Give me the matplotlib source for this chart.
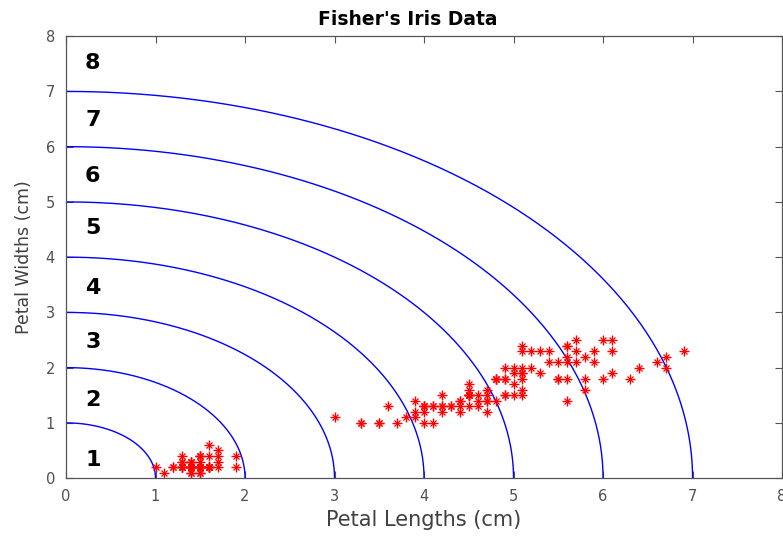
import numpy as np
import matplotlib
matplotlib.use("Agg")
import matplotlib.pyplot as plt

plt.rcParams['font.family'] = ['DejaVu Sans']

petal_length = [
    1.4,1.4,1.3,1.5,1.4,1.7,1.4,1.5,1.4,1.5,1.5,1.6,1.4,1.1,1.2,1.5,1.3,1.4,1.7,1.5,
    1.7,1.5,1.0,1.7,1.9,1.6,1.6,1.5,1.4,1.6,1.6,1.5,1.5,1.4,1.5,1.2,1.3,1.4,1.3,1.5,
    1.3,1.3,1.3,1.6,1.9,1.4,1.6,1.4,1.5,1.4,
    4.7,4.5,4.9,4.0,4.6,4.5,4.7,3.3,4.6,3.9,3.5,4.2,4.0,4.7,3.6,4.4,4.5,4.1,4.5,3.9,
    4.8,4.0,4.9,4.7,4.3,4.4,4.8,5.0,4.5,3.5,3.8,3.7,3.9,5.1,4.5,4.5,4.7,4.4,4.1,4.0,
    4.4,4.6,4.0,3.3,4.2,4.2,4.2,4.3,3.0,4.1,
    6.0,5.1,5.9,5.6,5.8,6.6,4.5,6.3,5.8,6.1,5.1,5.3,5.5,5.0,5.1,5.3,5.5,6.7,6.9,5.0,
    5.7,4.9,6.7,4.9,5.7,6.0,4.8,4.9,5.6,5.8,6.1,6.4,5.6,5.1,5.6,6.1,5.6,5.5,4.8,5.4,
    5.6,5.1,5.1,5.9,5.7,5.2,5.0,5.2,5.4,5.1]
petal_width = [
    0.2,0.2,0.2,0.2,0.2,0.4,0.3,0.2,0.2,0.1,0.2,0.2,0.1,0.1,0.2,0.4,0.4,0.3,0.3,0.3,
    0.2,0.4,0.2,0.5,0.2,0.2,0.4,0.2,0.2,0.2,0.2,0.4,0.1,0.2,0.2,0.2,0.2,0.1,0.2,0.2,
    0.3,0.3,0.2,0.6,0.4,0.3,0.2,0.2,0.2,0.2,
    1.4,1.5,1.5,1.3,1.5,1.3,1.6,1.0,1.3,1.4,1.0,1.5,1.0,1.4,1.3,1.4,1.5,1.0,1.5,1.1,
    1.8,1.3,1.5,1.2,1.3,1.4,1.4,1.7,1.5,1.0,1.1,1.0,1.2,1.6,1.5,1.6,1.5,1.3,1.3,1.3,
    1.2,1.4,1.2,1.0,1.3,1.2,1.3,1.3,1.1,1.3,
    2.5,1.9,2.1,1.8,2.2,2.1,1.7,1.8,1.8,2.5,2.0,1.9,2.1,2.0,2.4,2.3,1.8,2.2,2.3,1.5,
    2.3,2.0,2.0,1.8,2.1,1.8,1.8,1.8,2.1,1.6,1.9,2.0,2.2,1.5,1.4,2.3,2.4,1.8,1.8,2.1,
    2.4,2.3,1.9,2.3,2.5,2.3,1.9,2.0,2.3,1.8]

radii = [1, 2, 3, 4, 5, 6, 7]
labels = ['1', '2', '3', '4', '5', '6', '7', '8']
label_y = [0.33, 1.41, 2.46, 3.45, 4.52, 5.47, 6.48, 7.51]

fig = plt.figure(figsize=(7.83, 5.36), dpi=100)
ax = fig.add_axes([0.0843, 0.108, 0.9145, 0.8245])

theta = np.linspace(0, np.pi / 2, 200)
for r in radii:
    ax.plot(r * np.cos(theta), r * np.sin(theta), color='#0000ff', lw=1.0)

ax.plot(petal_length, petal_width, linestyle='none', marker='+', color='red',
        markersize=7.5, markeredgewidth=1.0)
ax.plot(petal_length, petal_width, linestyle='none', marker='x', color='red',
        markersize=5, markeredgewidth=0.9)

for lab, y in zip(labels, label_y):
    ax.text(0.3, y, lab, fontsize=16, fontweight='bold', ha='center', va='center',
            color='black')

ax.set_xlim(0, 8)
ax.set_ylim(0, 8)
ax.set_xticks(range(0, 9))
ax.set_yticks(range(0, 9))
gray = '#555555'
for s in ax.spines.values():
    s.set_color(gray)
    s.set_linewidth(0.9)
ax.tick_params(direction='in', top=True, right=True, length=5, width=0.8,
               colors=gray, labelcolor='#505050', labelsize=10.5, pad=8)
ax.set_title("Fisher's Iris Data", fontsize=13.5, fontweight='bold', pad=8, x=0.477)
ax.set_xlabel('Petal Lengths (cm)', fontsize=15, color='#404040')
ax.set_ylabel('Petal Widths (cm)', fontsize=12.5, color='#404040')
ax.xaxis.set_label_coords(0.5, -0.072)
ax.yaxis.set_label_coords(-0.046, 0.5)

fig.savefig('out.png', dpi=100)
